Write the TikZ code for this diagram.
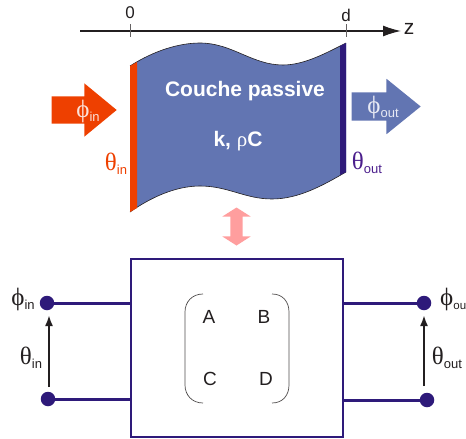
\documentclass[tikz,border=0pt]{standalone}
\usepackage{fontspec}
\usepackage{xcolor}
\usetikzlibrary{arrows.meta,shapes.arrows}
\setmainfont{Liberation Sans}
\newfontfamily\grk{Liberation Serif}
\definecolor{layerblue}{HTML}{6275B2}
\definecolor{fluxred}{HTML}{EE4000}
\definecolor{darkviolet}{HTML}{2E1A7A}
\definecolor{textviolet}{HTML}{4B1E8C}
\definecolor{pinkarrow}{HTML}{FF9E9E}
\definecolor{inkgrey}{HTML}{231F20}
\newcommand{\sym}[3]{{\fontsize{25}{25}\selectfont\grk #1}\raisebox{-4.5pt}{\fontsize{#3}{#3}\selectfont #2}}
\tikzset{
    flux/.style={single arrow,single arrow head indent=0pt,inner xsep=0pt,draw=none},
    term/.style={draw=none,fill=darkviolet,circle,inner sep=0pt,minimum size=14.5pt},
    wire/.style={darkviolet,line width=3pt},
    volt/.style={inkgrey,line width=2pt,-{Latex[length=11pt,width=8pt]}},
    entry/.style={inkgrey,font=\fontsize{19}{19}\selectfont},
    tick/.style={inkgrey!70,line width=0.7pt},
}
\begin{document}
\begin{tikzpicture}[x=1pt,y=-1pt]
    \useasboundingbox (0,0) rectangle (466,439);
    \fill[layerblue] (130,66) .. controls (155,50) and (180,43) .. (200,43)
        .. controls (232,43) and (252,65) .. (283,65)
        .. controls (305,65) and (328,52) .. (346,43) -- (346,172)
        .. controls (322,186) and (298,199) .. (272,199)
        .. controls (245,199) and (228,186) .. (200,186)
        .. controls (175,186) and (150,198) .. (130,212) -- cycle;
    \draw[inkgrey,line width=0.6pt] (130,66) .. controls (155,50) and (180,43) .. (200,43)
        .. controls (232,43) and (252,65) .. (283,65)
        .. controls (305,65) and (328,52) .. (346,43);
    \draw[inkgrey,line width=0.6pt] (346,172) .. controls (322,186) and (298,199) .. (272,199)
        .. controls (245,199) and (228,186) .. (200,186)
        .. controls (175,186) and (150,198) .. (130,212);
    \fill[fluxred] (130,66) -- (137,62) -- (137,208) -- (130,212) -- cycle;
    \fill[darkviolet] (340,46) -- (346,43) -- (346,172) -- (340,175) -- cycle;

    \coordinate (zstart) at (80,31);
    \coordinate (zend) at (401,31);
    \coordinate (t0a) at (130,24);
    \coordinate (t0b) at (130,37);
    \coordinate (tda) at (346,24);
    \coordinate (tdb) at (346,37);
    \draw[inkgrey,line width=1.3pt,-{Latex[length=18pt,width=11pt]}] (zstart) to (zend);
    \draw[tick] (t0a) to (t0b);
    \draw[tick] (tda) to (tdb);
    \node[inkgrey,font=\fontsize{17}{17}\selectfont] (zero) at (130,13) {0};
    \node[inkgrey,font=\fontsize{17}{17}\selectfont] (dval) at (346,15) {d};
    \node[inkgrey,font=\fontsize{21}{21}\selectfont] (zlab) at (409,29) {z};

    \node[flux,fill=fluxred,inner ysep=13.5pt,minimum height=65pt,minimum width=53pt,single arrow head extend=13pt,single arrow tip angle=79,anchor=tip] (phiin) at (117,110) {};
    \node[flux,fill=layerblue,inner ysep=14pt,minimum height=69pt,minimum width=55pt,single arrow head extend=13.5pt,single arrow tip angle=78,anchor=tip] (phiout) at (421,106.5) {};
    \node[text=white!85!fluxred] (philab) at (88,111) {\sym{ϕ}{in}{13}};
    \node[text=white!85!layerblue] (phioutlab) at (383,107) {\sym{ϕ}{out}{13}};
    \node[fluxred,inner sep=0pt] (thetain) at (116,164) {\sym{θ}{in}{13}};
    \node[textviolet,inner sep=0pt] (thetaout) at (367,163) {\sym{θ}{out}{13}};

    \node[white,font=\bfseries\fontsize{21}{21}\selectfont] (layername) at (245,91) {Couche passive};
    \node[white,font=\fontsize{21}{21}\selectfont] (layerprops) at (238,141) {\textbf{k,} {\grk ρ}\textbf{C}};

    \node[double arrow,draw=none,fill=pinkarrow,inner sep=6pt,double arrow head indent=0pt,minimum height=38pt,minimum width=28pt,double arrow head extend=8pt,double arrow tip angle=115,shape border rotate=90] (equiv) at (236.5,226.5) {};

    \node[draw=darkviolet,line width=2.8pt,minimum width=212pt,minimum height=178pt,inner sep=0pt] (quad) at (237,348) {};
    \node[term] (inA) at (47,303) {};
    \node[term] (inB) at (48,399) {};
    \node[term] (outA) at (424,303) {};
    \node[term] (outB) at (427,400) {};
    \draw[wire] (inA) to (inA -| quad.west);
    \draw[wire] (inB) to (inB -| quad.west);
    \draw[wire] (outA) to (outA -| quad.east);
    \draw[wire] (outB) to (outB -| quad.east);

    \coordinate (vinA) at (49,315);
    \coordinate (vinB) at (49,387);
    \coordinate (voutA) at (424,315);
    \coordinate (voutB) at (424,386);
    \draw[volt] (vinB) to (vinA);
    \draw[volt] (voutB) to (voutA);

    \node[inkgrey,inner sep=0pt] (phiA) at (23,299) {\sym{ϕ}{in}{13}};
    \node[inkgrey,inner sep=0pt] (thetaA) at (31,358) {\sym{θ}{in}{13}};
    \node[inkgrey,inner sep=0pt,anchor=west] (phiB) at (440,299) {\sym{ϕ}{ou}{11.5}};
    \node[inkgrey,inner sep=0pt] (thetaB) at (447,358) {\sym{θ}{out}{13}};

    \node[entry] (mA) at (209,317) {A};
    \node[entry] (mB) at (264,317) {B};
    \node[entry] (mC) at (210,379) {C};
    \node[entry] (mD) at (266,379) {D};
    \draw[inkgrey!80,line width=0.7pt] (203,294) .. controls (192,294) and (185,302) .. (185,312) -- (185,385)
        .. controls (185,395) and (192,403) .. (203,403);
    \draw[inkgrey!80,line width=0.7pt] (272,294) .. controls (283,294) and (289,302) .. (289,312) -- (289,385)
        .. controls (289,395) and (283,403) .. (272,403);
\end{tikzpicture}
\end{document}
